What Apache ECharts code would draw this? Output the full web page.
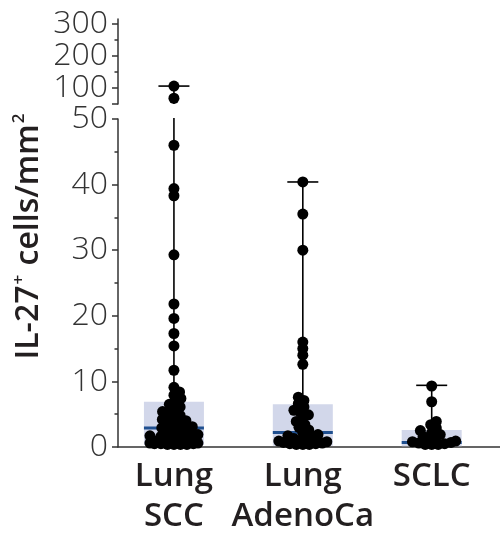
<!DOCTYPE html>
<html><head><meta charset="utf-8">
<script src="https://cdn.jsdelivr.net/npm/echarts@6/dist/echarts.min.js"></script>
<style>html,body{margin:0;padding:0;background:#fff}#c{width:500px;height:537px}</style>
</head><body><div id="c"></div>
<script>
// ---- data ----
const categories = ['Lung\nSCC', 'Lung\nAdenoCa', 'SCLC'];
const sccValues = [106, 68, 46, 39.4, 38.3, 29.3, 21.8, 19.6, 17.3, 15.4, 11.7,
  9.1, 8.4, 7.9, 7.4, 6.9, 6.5, 6.1, 5.8, 5.4, 5.1, 4.8, 4.5, 4.2, 4.0, 3.7, 3.5, 3.3, 3.1,
  2.9, 2.7, 2.5, 2.3, 2.2, 2.0, 1.9, 1.7, 1.6, 1.5, 1.4, 1.3, 1.2, 1.1, 1.0, 0.9, 0.9,
  0.8, 0.8, 0.7, 0.7, 0.6, 0.6, 0.5, 0.5, 0.5, 0.4, 0.4, 0.4, 0.4];
const adenoValues = [40.4, 35.5, 30.0, 16.0, 15.0, 14.0, 12.6,
  7.6, 7.1, 6.6, 6.1, 5.6, 5.3, 4.9, 4.4, 3.9, 3.4, 3.0, 2.6, 2.2,
  1.9, 1.7, 1.5, 1.3, 1.2, 1.0, 0.9, 0.8, 0.7, 0.6, 0.5, 0.5, 0.4, 0.4, 0.4];
const sclcValues = [9.3, 6.9, 3.9, 3.4, 2.9, 2.5, 2.2, 1.9, 1.6, 1.3, 1.1, 0.9, 0.8, 0.7, 0.6, 0.5, 0.4, 0.4, 0.4];
// box stats: [min, q1, median, q3, max]
const sccStats = [0, 0.3, 2.9, 6.9, 106];
const adenoStats = [0, 0.2, 2.2, 6.5, 40.4];
const sclcStats = [0, 0.1, 0.7, 2.6, 9.4];
const upperMajorTicks = [50, 100, 200, 300];
const upperLabelTicks = [100, 200, 300];
const upperMinorTicks = [150, 250];
const breakValue = 50;

const groups = [sccValues, adenoValues, sclcValues];
const stats = [sccStats, adenoStats, sclcStats];

const chart = echarts.init(document.getElementById('c'), null, {renderer: 'canvas'});
const FONT = '"Open Sans", "DejaVu Sans", sans-serif';
const AX = '#333';
const BOX = '#d2d7ea';
const MED = '#1f4f8f';

const boxData = stats.map((s, i) => [i + 1].concat(s));
const upperWhiskerData = stats.map((s, i) => [i + 1].concat(s)).filter(d => d[5] > breakValue);

function lowerBox(params, api) {
  const x = api.value(0);
  const mn = api.value(1), q1 = api.value(2), med = api.value(3), q3 = api.value(4), mx = api.value(5);
  const top = Math.min(mx, breakValue);
  const pMin = api.coord([x, mn]), pTop = api.coord([x, top]);
  const pQ1 = api.coord([x, q1]), pQ3 = api.coord([x, q3]), pMed = api.coord([x, med]);
  const hw = 30, cw = 15.5;
  const children = [
    {type: 'rect', shape: {x: pQ1[0] - hw, y: pQ3[1], width: hw * 2, height: pQ1[1] - pQ3[1]}, style: {fill: BOX}},
    {type: 'line', shape: {x1: pMin[0], y1: pMin[1], x2: pTop[0], y2: mx > breakValue ? pTop[1] - 1 : pTop[1]}, style: {stroke: '#000', lineWidth: 1.6}},
    {type: 'line', shape: {x1: pMed[0] - hw, y1: pMed[1], x2: pMed[0] + hw, y2: pMed[1]}, style: {stroke: MED, lineWidth: 3}}
  ];
  if (mx <= breakValue) {
    children.push({type: 'line', shape: {x1: pTop[0] - cw, y1: pTop[1], x2: pTop[0] + cw, y2: pTop[1]}, style: {stroke: '#000', lineWidth: 1.6}});
  }
  return {type: 'group', children};
}
function upperWhisker(params, api) {
  const x = api.value(0), mx = api.value(5);
  const p0 = api.coord([x, breakValue]), p1 = api.coord([x, mx]);
  const cw = 15.5;
  return {type: 'group', children: [
    {type: 'line', shape: {x1: p0[0], y1: p0[1], x2: p1[0], y2: p1[1]}, style: {stroke: '#000', lineWidth: 1.6}},
    {type: 'line', shape: {x1: p1[0] - cw, y1: p1[1], x2: p1[0] + cw, y2: p1[1]}, style: {stroke: '#000', lineWidth: 1.6}}
  ]};
}

const xMin = 0.566, xMax = 3.53;
const option = {
  animation: false,
  backgroundColor: '#fff',
  grid: [
    {left: 118, right: 0, top: 19, height: 85},
    {left: 118, right: 0, top: 119, bottom: 86.5}
  ],
  xAxis: [
    {gridIndex: 0, type: 'value', min: xMin, max: xMax, show: false},
    {gridIndex: 1, type: 'value', min: xMin, max: xMax,
      axisLine: {show: true, onZero: false, lineStyle: {color: AX, width: 1.5}},
      axisTick: {show: false}, splitLine: {show: false},
      axisLabel: {customValues: [1, 2, 3], formatter: v => categories[Math.round(v) - 1] || '',
        fontFamily: FONT, fontSize: 33, fontWeight: 600, color: '#231f20', lineHeight: 40, margin: 10}}
  ],
  yAxis: [
    {gridIndex: 0, type: 'value', min: 50, max: 315.6, position: 'left',
      axisLine: {show: true, lineStyle: {color: AX, width: 1.5}},
      axisTick: {show: true, customValues: upperMajorTicks, length: 6, lineStyle: {color: AX, width: 1.5}},
      axisLabel: {customValues: upperLabelTicks, fontFamily: FONT, fontSize: 32, fontWeight: 300, color: '#333', margin: 10},
      splitLine: {show: false}},
    {gridIndex: 0, type: 'value', min: 50, max: 315.6, position: 'left',
      axisLine: {show: false},
      axisTick: {show: true, customValues: upperMinorTicks, length: 3.5, lineStyle: {color: AX, width: 1.5}},
      axisLabel: {show: false}, splitLine: {show: false}},
    {gridIndex: 1, type: 'value', min: 0, max: 50, interval: 10, position: 'left',
      axisLine: {show: true, onZero: false, lineStyle: {color: AX, width: 1.5}},
      axisTick: {show: true, length: 6, lineStyle: {color: AX, width: 1.5}},
      minorTick: {show: true, splitNumber: 2, length: 3.5, lineStyle: {color: AX, width: 1.5}},
      axisLabel: {fontFamily: FONT, fontSize: 32, fontWeight: 300, color: '#333', margin: 10},
      splitLine: {show: false}}
  ],
  graphic: [{
    type: 'text', x: 29, y: 236, rotation: Math.PI / 2,
    style: {
      text: '{a|IL-27}{s|+}{a| cells/mm}{s|2}',
      align: 'center', verticalAlign: 'middle',
      rich: {
        a: {fontFamily: FONT, fontSize: 32, fontWeight: 600, fill: '#231f20', lineHeight: 36},
        s: {fontFamily: FONT, fontSize: 17, fontWeight: 600, fill: '#231f20', verticalAlign: 'top', lineHeight: 36, padding: [0, 1, 0, 1]}
      }
    }
  }],
  series: [
    {type: 'custom', xAxisIndex: 1, yAxisIndex: 2, renderItem: lowerBox, z: 2,
      dimensions: ['x', 'min', 'q1', 'med', 'q3', 'max'], encode: {x: 0, y: 1}, data: boxData, clip: false},
    {type: 'custom', xAxisIndex: 0, yAxisIndex: 0, renderItem: upperWhisker, z: 2,
      dimensions: ['x', 'min', 'q1', 'med', 'q3', 'max'], encode: {x: 0, y: 1}, data: upperWhiskerData, clip: true},
    {type: 'scatter', id: 'upperDots', xAxisIndex: 0, yAxisIndex: 0, symbolSize: 11, z: 5,
      itemStyle: {color: '#000', opacity: 1}, data: []},
    {type: 'scatter', id: 'lowerDots', xAxisIndex: 1, yAxisIndex: 2, symbolSize: 11, z: 5,
      itemStyle: {color: '#000', opacity: 1}, data: [], clip: false}
  ]
};
chart.setOption(option);

// beeswarm layout in pixel space, with a maximum half-width
function swarm(pys, D, maxW) {
  const idx = pys.map((y, i) => i).sort((a, b) => pys[b] - pys[a]);
  const placed = [], off = new Array(pys.length).fill(0);
  for (const i of idx) {
    const y = pys[i];
    const cands = [0];
    for (const p of placed) {
      const dy = Math.abs(p.y - y);
      if (dy < D) { const dx = Math.sqrt(D * D - dy * dy); cands.push(p.x + dx, p.x - dx); }
    }
    const ok = cands.filter(c => Math.abs(c) <= maxW);
    ok.sort((a, b) => (Math.abs(a) - Math.abs(b)) || (b - a));
    let chosen = null;
    for (const c of ok) {
      if (placed.every(p => (p.x - c) * (p.x - c) + (p.y - y) * (p.y - y) >= D * D - 0.01)) { chosen = c; break; }
    }
    if (chosen === null) {
      let best = -1;
      for (let c = -maxW; c <= maxW; c += 1) {
        let md = Infinity;
        for (const p of placed) md = Math.min(md, Math.hypot(p.x - c, p.y - y));
        if (md > best) { best = md; chosen = c; }
      }
    }
    placed.push({x: chosen, y});
    off[i] = chosen;
  }
  return off;
}

const upperDots = [], lowerDots = [];
groups.forEach((vals, gi) => {
  const cat = gi + 1;
  [[vals.filter(v => v > breakValue), {xAxisIndex: 0, yAxisIndex: 0}, upperDots],
   [vals.filter(v => v <= breakValue), {xAxisIndex: 1, yAxisIndex: 2}, lowerDots]].forEach(([vs, finder, out]) => {
    const px = vs.map(v => chart.convertToPixel(finder, [cat, v]));
    const offs = swarm(px.map(p => p[1]), 6.5, 24);
    vs.forEach((v, k) => {
      const xv = chart.convertFromPixel(finder, [px[k][0] + offs[k], px[k][1]])[0];
      out.push([xv, v]);
    });
  });
});
chart.setOption({series: [{id: 'upperDots', data: upperDots}, {id: 'lowerDots', data: lowerDots}]});
</script></body></html>
